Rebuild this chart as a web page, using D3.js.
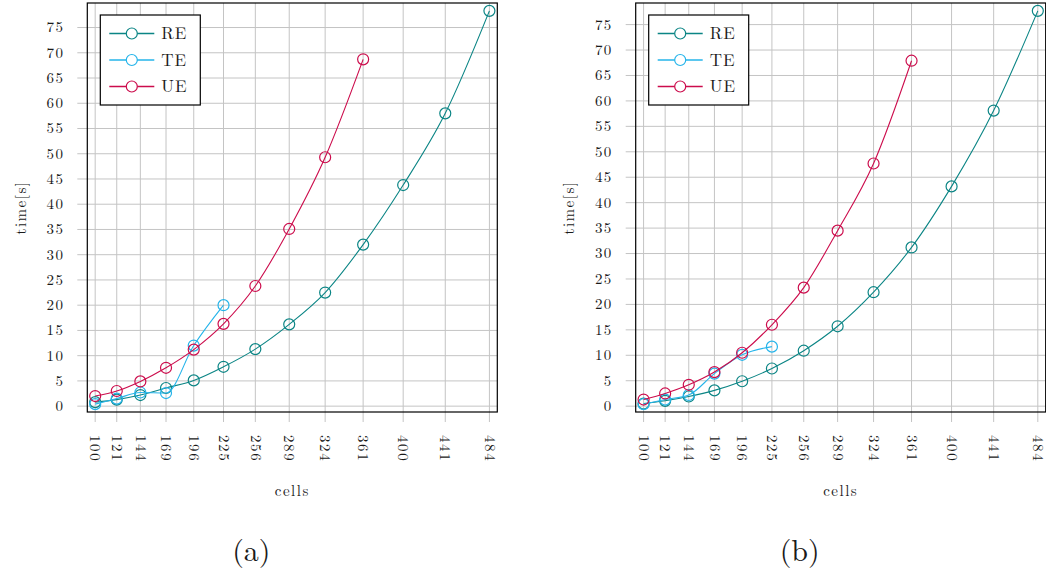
<!DOCTYPE html>
<html><head><meta charset="utf-8">
<script src="https://cdn.jsdelivr.net/npm/d3@7"></script>
<style>
html,body{margin:0;padding:0;background:#fff;}
svg{display:block;}
</style></head>
<body>
<svg id="chart" width="1046" height="572"></svg>
<script>
const cells = [100,121,144,169,196,225,256,289,324,361,400,441,484];
const yTicks = [0,5,10,15,20,25,30,35,40,45,50,55,60,65,70,75];
const seriesNames = ["RE","TE","UE"];
const seriesColors = ["#0b8585","#25b4ea","#cc0c4c"];
// panel (a)
const reA = [0.8,1.3,2.2,3.6,5.1,7.8,11.3,16.2,22.5,32.0,43.8,58.0,78.3];
const teA = [0.4,1.5,2.7,2.6,12.0,20.0];
const ueA = [2.0,3.0,4.9,7.6,11.2,16.3,23.8,35.1,49.3,68.7];
// panel (b)
const reB = [0.5,1.05,1.9,3.1,4.9,7.4,10.9,15.7,22.4,31.2,43.2,58.1,77.7];
const teB = [0.4,1.3,2.2,6.4,10.1,11.7];
const ueB = [1.3,2.5,4.2,6.7,10.5,16.0,23.3,34.5,47.7,67.9];
const panelLabels = ["(a)","(b)"];
const xLabel = "cells";
const yLabel = "time[s]";

const svg = d3.select("#chart");
const FF = "Latin Modern Roman";

function drawPanel(ox, series, label) {
  const W = 410, H = 409, top = 3;
  const g = svg.append("g").attr("transform", `translate(${ox},${top})`)
    .attr("font-family", FF).attr("fill", "#1a1a1a");
  const xExt = d3.extent(cells), xPad = (xExt[1]-xExt[0])*0.02;
  const x = d3.scaleLinear().domain([xExt[0]-xPad, xExt[1]+xPad]).range([0, W]);
  const all = series.flat();
  const yExt = d3.extent(all), yPad = (yExt[1]-yExt[0])*0.02;
  const y = d3.scaleLinear().domain([yExt[0]-yPad, yExt[1]+yPad]).range([H, 0]);

  // grid
  g.append("g").selectAll("line").data(cells).join("line")
    .attr("x1", d=>x(d)).attr("x2", d=>x(d)).attr("y1", 0).attr("y2", H+10)
    .attr("stroke", "#c4c4c4").attr("stroke-width", 1);
  g.append("g").selectAll("line").data(yTicks).join("line")
    .attr("y1", d=>y(d)).attr("y2", d=>y(d)).attr("x1", -10).attr("x2", W)
    .attr("stroke", "#c4c4c4").attr("stroke-width", 1);

  // y tick labels
  g.append("g").selectAll("text").data(yTicks).join("text")
    .attr("x", -23).attr("y", d=>y(d)).attr("dy", "0.33em")
    .attr("text-anchor", "end").attr("font-size", 15).attr("letter-spacing", "1.4px")
    .text(d=>d);
  // x tick labels rotated
  g.append("g").selectAll("text").data(cells).join("text")
    .attr("transform", d=>`translate(${x(d)},${435-top}) rotate(90)`)
    .attr("dy", "0.32em").attr("text-anchor", "start")
    .attr("font-size", 15).attr("letter-spacing", "1.6px")
    .text(d=>d);

  // frame
  g.append("rect").attr("x",0).attr("y",0).attr("width",W).attr("height",H)
    .attr("fill","none").attr("stroke","#000").attr("stroke-width",1.2);

  // series
  series.forEach((vals, i) => {
    const pts = vals.map((v, j) => [cells[j], v]);
    g.append("path").datum(pts)
      .attr("d", d3.line().x(d=>x(d[0])).y(d=>y(d[1])).curve(d3.curveMonotoneX))
      .attr("fill","none").attr("stroke", seriesColors[i]).attr("stroke-width", 1.1);
    g.append("g").selectAll("circle").data(pts).join("circle")
      .attr("cx", d=>x(d[0])).attr("cy", d=>y(d[1])).attr("r", 5.5)
      .attr("fill","none").attr("stroke", seriesColors[i]).attr("stroke-width", 1.2);
  });

  // legend
  const lg = g.append("g").attr("transform", "translate(13,12)");
  lg.append("rect").attr("x",0).attr("y",0).attr("width",100).attr("height",90)
    .attr("fill","#fff").attr("stroke","#000").attr("stroke-width",1.2);
  seriesNames.forEach((n, i) => {
    const yy = 18.5 + i*26.5;
    lg.append("line").attr("x1",9).attr("x2",54).attr("y1",yy).attr("y2",yy)
      .attr("stroke", seriesColors[i]).attr("stroke-width",1.5);
    lg.append("circle").attr("cx",31.5).attr("cy",yy).attr("r",5.5)
      .attr("fill","#fff").attr("stroke", seriesColors[i]).attr("stroke-width",1.2);
    lg.append("text").attr("x",61).attr("y",yy).attr("dy","0.34em")
      .attr("font-size",17).attr("letter-spacing","1px").text(n);
  });

  // axis labels
  g.append("text").attr("x", W/2).attr("y", 496-top).attr("text-anchor","middle")
    .attr("font-size",15).attr("letter-spacing","1.5px").text(xLabel);
  g.append("text").attr("transform", `translate(-67,${H/2}) rotate(-90)`)
    .attr("text-anchor","middle").attr("dy","0.35em")
    .attr("font-size",15).attr("letter-spacing","1.5px").text(yLabel);

  // panel label
  g.append("text").attr("x", W/2 - 41).attr("y", 560.5-top).attr("text-anchor","middle")
    .attr("font-size",30).text(label);
}

drawPanel(87.3, [reA, teA, ueA], panelLabels[0]);
drawPanel(635.7, [reB, teB, ueB], panelLabels[1]);
</script>
</body></html>
